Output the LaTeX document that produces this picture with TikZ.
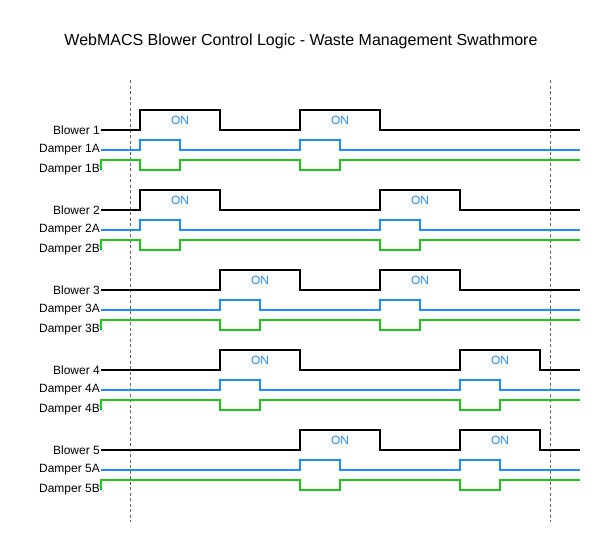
\documentclass[tikz,border=0pt]{standalone}
\usepackage{fontspec}
\setmainfont{Liberation Sans}
\definecolor{sigblue}{RGB}{30,140,255}
\definecolor{siggreen}{RGB}{25,200,25}
\tikzset{
  lbl/.style={anchor=east,inner sep=1pt,font=\fontsize{12}{14}\selectfont},
  ontext/.style={text=sigblue,inner sep=0pt,font=\fontsize{12}{14}\selectfont},
  blowerline/.style={black,line width=1.5pt},
  damperaline/.style={sigblue,line width=1.5pt},
  damperbline/.style={siggreen,line width=1.5pt},
  guide/.style={gray!80!black,line width=0.7pt,dash pattern=on 3pt off 2.5pt},
}
\begin{document}
\begin{tikzpicture}[x=1pt,y=-1pt]
\useasboundingbox (0,0) rectangle (603,542);
\node[font=\fontsize{16}{18}\selectfont,inner sep=0pt] (title) at (301,41) {WebMACS Blower Control Logic - Waste Management Swathmore};
\coordinate (gl1) at (130,80); \coordinate (gl2) at (130,522);
\coordinate (gr1) at (550,80); \coordinate (gr2) at (550,522);
\draw[guide] (gl1) -- (gl2);
\draw[guide] (gr1) -- (gr2);
\foreach \n/\y/\a/\b in {1/130/140/300, 2/210/140/380, 3/290/220/380, 4/370/220/460, 5/450/300/460} {
  \node[lbl] (bl\n) at (101,\y) {Blower \n};
  \node[lbl] (da\n) at (101,\y+20) {Damper \n A};
  \node[lbl] (db\n) at (101,\y+40) {Damper \n B};
  \draw[blowerline] (bl\n.east) -- (\a,\y) -- (\a,\y-20) -- (\a+80,\y-20) -- (\a+80,\y)
     -- (\b,\y) -- (\b,\y-20) -- (\b+80,\y-20) -- (\b+80,\y) -- (580,\y);
  \draw[damperaline] (da\n.east) -- (\a,\y+20) -- (\a,\y+10) -- (\a+40,\y+10) -- (\a+40,\y+20)
     -- (\b,\y+20) -- (\b,\y+10) -- (\b+40,\y+10) -- (\b+40,\y+20) -- (580,\y+20);
  \draw[damperbline] (db\n.east) -- (101,\y+30) -- (\a,\y+30) -- (\a,\y+40) -- (\a+40,\y+40) -- (\a+40,\y+30)
     -- (\b,\y+30) -- (\b,\y+40) -- (\b+40,\y+40) -- (\b+40,\y+30) -- (580,\y+30);
  \node[ontext] (on\n-a) at (\a+40,\y-9.5) {ON};
  \node[ontext] (on\n-b) at (\b+40,\y-9.5) {ON};
}
\end{tikzpicture}
\end{document}
